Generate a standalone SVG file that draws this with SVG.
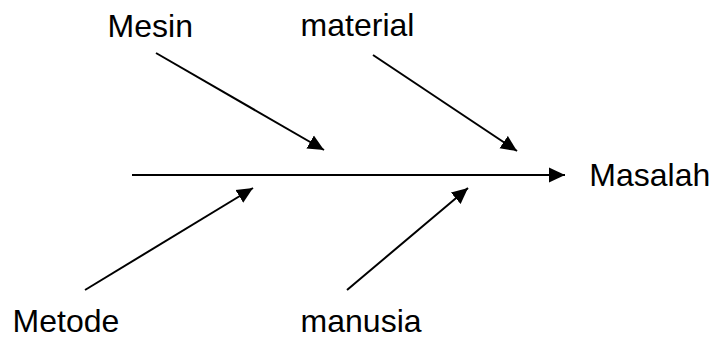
<svg xmlns="http://www.w3.org/2000/svg" width="715" height="342" viewBox="0 0 715 342">
<style>
.lbl{font-family:"Liberation Sans",Arial,sans-serif;font-size:32px;fill:#000}
.c{stroke:#000;stroke-width:2;fill:none;marker-end:url(#ah)}
</style>
<defs>
<marker id="ah" markerUnits="userSpaceOnUse" markerWidth="16" markerHeight="16" refX="16" refY="8" orient="auto">
<path d="M0,0.5 L16,8 L0,15.5 z" fill="#000"/>
</marker>
</defs>
<rect width="715" height="342" fill="#fff"/>
<g id="connectors">
<line class="c" x1="132" y1="175" x2="565" y2="175"/>
<line class="c" x1="156" y1="53" x2="324" y2="150"/>
<line class="c" x1="373" y1="55" x2="517" y2="151"/>
<line class="c" x1="85" y1="290" x2="253" y2="188"/>
<line class="c" x1="347" y1="290" x2="468" y2="188"/>
</g>
<g id="mesin"><text class="lbl" x="107.6" y="37">Mesin</text></g>
<g id="material"><text class="lbl" x="300.6" y="36">material</text></g>
<g id="masalah"><text class="lbl" x="589.3" y="186">Masalah</text></g>
<g id="metode"><text class="lbl" x="12.6" y="331.5">Metode</text></g>
<g id="manusia"><text class="lbl" x="300.6" y="331.5">manusia</text></g>
</svg>
